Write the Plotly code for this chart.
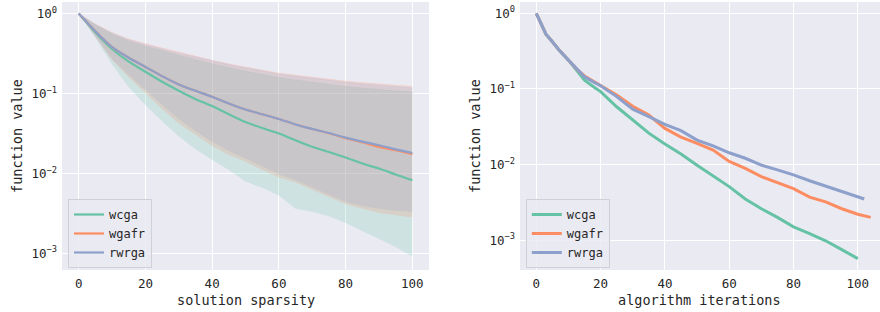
import plotly.graph_objects as go

# ---------------- data: left panel (solution sparsity) ----------------
x_left = [0, 5, 10, 15, 20, 25, 30, 35, 40, 45, 50, 55, 60, 65, 70, 75, 80, 85, 90, 95, 100]

wcga_mean = [1, 0.58, 0.36, 0.25, 0.187, 0.14, 0.108, 0.085, 0.0695, 0.055, 0.044, 0.037, 0.0316, 0.026, 0.0215, 0.0185, 0.0158, 0.0133, 0.0115, 0.0097, 0.0082]
wgafr_mean = [1, 0.6, 0.38, 0.28, 0.215, 0.165, 0.13, 0.108, 0.091, 0.075, 0.063, 0.055, 0.048, 0.041, 0.036, 0.0318, 0.0275, 0.0245, 0.0215, 0.0195, 0.0174]
rwrga_mean = [1, 0.6, 0.38, 0.28, 0.215, 0.165, 0.13, 0.108, 0.091, 0.075, 0.063, 0.055, 0.048, 0.041, 0.036, 0.032, 0.028, 0.025, 0.0225, 0.02, 0.018]

wcga_upper = [1, 0.72, 0.55, 0.45, 0.39, 0.34, 0.3, 0.265, 0.235, 0.21, 0.19, 0.172, 0.158, 0.148, 0.138, 0.129, 0.122, 0.117, 0.112, 0.108, 0.105]
wgafr_upper = [1, 0.74, 0.58, 0.48, 0.42, 0.37, 0.33, 0.295, 0.26, 0.235, 0.215, 0.195, 0.18, 0.17, 0.16, 0.15, 0.143, 0.137, 0.132, 0.127, 0.123]
rwrga_upper = [1, 0.73, 0.57, 0.47, 0.41, 0.36, 0.32, 0.288, 0.255, 0.23, 0.21, 0.19, 0.175, 0.165, 0.155, 0.146, 0.139, 0.132, 0.127, 0.122, 0.118]

wcga_lower = [1, 0.5, 0.23, 0.12, 0.072, 0.045, 0.029, 0.02, 0.0147, 0.011, 0.0079, 0.0066, 0.0053, 0.0036, 0.0033, 0.0029, 0.0024, 0.0019, 0.0015, 0.0012, 0.00091]
wgafr_lower = [1, 0.51, 0.26, 0.16, 0.1, 0.064, 0.042, 0.03, 0.022, 0.017, 0.014, 0.011, 0.0089, 0.0077, 0.0062, 0.005, 0.0041, 0.0036, 0.0032, 0.003, 0.0028]
rwrga_lower = [1, 0.52, 0.27, 0.17, 0.11, 0.072, 0.048, 0.034, 0.0248, 0.019, 0.0154, 0.0122, 0.0097, 0.0082, 0.0066, 0.0054, 0.0044, 0.0039, 0.0036, 0.0034, 0.0033]

# ---------------- data: right panel (algorithm iterations) ----------------
x_wcga_r = [0, 1, 2, 3, 5, 7, 10, 13, 15, 18, 20, 25, 30, 35, 40, 45, 50, 55, 60, 65, 70, 75, 80, 85, 90, 95, 100]
wcga_r = [1, 0.8, 0.64, 0.53, 0.42, 0.33, 0.24, 0.168, 0.13, 0.105, 0.092, 0.058, 0.039, 0.026, 0.0187, 0.0138, 0.0098, 0.0071, 0.0051, 0.0035, 0.0026, 0.002, 0.0015, 0.00122, 0.00098, 0.00075, 0.00057]

x_wgafr_r = [0, 1, 2, 3, 5, 7, 10, 13, 15, 18, 20, 25, 30, 35, 40, 45, 50, 55, 60, 65, 70, 75, 80, 85, 90, 95, 100, 104]
wgafr_r = [1, 0.8, 0.64, 0.53, 0.42, 0.33, 0.24, 0.175, 0.148, 0.125, 0.112, 0.083, 0.059, 0.045, 0.030, 0.023, 0.019, 0.0155, 0.011, 0.0089, 0.0069, 0.0057, 0.0048, 0.0037, 0.0032, 0.0026, 0.0022, 0.0020]

x_rwrga_r = [0, 1, 2, 3, 5, 7, 10, 13, 15, 18, 20, 25, 30, 35, 40, 45, 50, 55, 60, 65, 70, 75, 80, 85, 90, 95, 100, 102]
rwrga_r = [1, 0.8, 0.64, 0.53, 0.42, 0.33, 0.24, 0.175, 0.145, 0.122, 0.11, 0.079, 0.054, 0.043, 0.034, 0.028, 0.021, 0.0176, 0.0143, 0.0121, 0.0098, 0.0085, 0.0073, 0.0061, 0.0052, 0.0044, 0.0037, 0.0035]

names = ["wcga", "wgafr", "rwrga"]
colors = ["#66c2a5", "#fc8d62", "#8da0cb"]
fills = ["rgba(102,194,165,0.2)", "rgba(252,141,98,0.2)", "rgba(141,160,203,0.2)"]

x_ticks = [0, 20, 40, 60, 80, 100]
y_tickvals = [1, 0.1, 0.01, 0.001]
y_ticktext = ["10<sup>0</sup>", "10<sup>\u22121</sup>", "10<sup>\u22122</sup>", "10<sup>\u22123</sup>"]

FONT = "DejaVu Sans Mono"
TXT = "#262626"

fig = go.Figure()

# bands (left)
for nm, lo, up, fc in zip(names, [wcga_lower, wgafr_lower, rwrga_lower],
                          [wcga_upper, wgafr_upper, rwrga_upper], fills):
    fig.add_trace(go.Scatter(x=x_left, y=lo, mode="lines", line=dict(width=0),
                             showlegend=False, hoverinfo="skip", xaxis="x", yaxis="y"))
    fig.add_trace(go.Scatter(x=x_left, y=up, mode="lines", line=dict(width=0.6, color=fc),
                             fill="tonexty", fillcolor=fc, showlegend=False,
                             hoverinfo="skip", xaxis="x", yaxis="y"))

# mean lines (left)
for nm, ys, c in zip(names, [wcga_mean, wgafr_mean, rwrga_mean], colors):
    fig.add_trace(go.Scatter(x=x_left, y=ys, mode="lines", name=nm,
                             line=dict(color=c, width=2.2, shape="spline", smoothing=0.6),
                             xaxis="x", yaxis="y", legend="legend"))

# right lines
for nm, xs, ys, c in zip(names, [x_wcga_r, x_wgafr_r, x_rwrga_r], [wcga_r, wgafr_r, rwrga_r], colors):
    fig.add_trace(go.Scatter(x=xs, y=ys, mode="lines", name=nm,
                             line=dict(color=c, width=3),
                             xaxis="x2", yaxis="y2", legend="legend2"))

axis_common = dict(showgrid=True, gridcolor="white", gridwidth=1.1, zeroline=False,
                   showline=False, ticks="", automargin=False, ticklabelstandoff=4,
                   tickfont=dict(family=FONT, size=12.5, color=TXT))

fig.update_layout(
    width=880, height=312,
    margin=dict(l=62, r=0, t=2, b=42, autoexpand=False),
    paper_bgcolor="white", plot_bgcolor="#EAEAF2",
    font=dict(family=FONT, color=TXT),
    xaxis=dict(domain=[0, 0.4487], range=[-5, 105], tickvals=x_ticks, anchor="y", **axis_common),
    yaxis=dict(domain=[0, 1], type="log", range=[-3.209, 0.145], tickvals=y_tickvals,
               ticktext=y_ticktext, anchor="x", **axis_common),
    xaxis2=dict(domain=[0.5599, 1], range=[-5.07, 106.9], tickvals=x_ticks, anchor="y2", **axis_common),
    yaxis2=dict(domain=[0, 1], type="log", range=[-3.395, 0.149], tickvals=y_tickvals,
                ticktext=y_ticktext, anchor="x2", **axis_common),
    legend=dict(x=0.0073, y=0.0075, xanchor="left", yanchor="bottom", traceorder="normal",
                bgcolor="rgba(234,234,242,0.85)", bordercolor="#d0d0d8", borderwidth=1,
                font=dict(family=FONT, size=12, color=TXT), tracegroupgap=0),
    legend2=dict(x=0.567, y=0.0075, xanchor="left", yanchor="bottom", traceorder="normal",
                 bgcolor="rgba(234,234,242,0.85)", bordercolor="#d0d0d8", borderwidth=1,
                 font=dict(family=FONT, size=12, color=TXT), tracegroupgap=0),
    annotations=[
        dict(text="solution sparsity", x=0.5 * 0.4487, y=-0.112, xref="paper", yref="paper",
             showarrow=False, font=dict(family=FONT, size=13.5, color=TXT), xanchor="center", yanchor="middle"),
        dict(text="algorithm iterations", x=(0.5599 + 1) / 2, y=-0.112, xref="paper", yref="paper",
             showarrow=False, font=dict(family=FONT, size=13.5, color=TXT), xanchor="center", yanchor="middle"),
        dict(text="function value", x=(17 - 62) / 818, y=0.5, xref="paper", yref="paper", textangle=-90,
             showarrow=False, font=dict(family=FONT, size=13.5, color=TXT), xanchor="center", yanchor="middle"),
        dict(text="function value", x=(475 - 62) / 818, y=0.5, xref="paper", yref="paper", textangle=-90,
             showarrow=False, font=dict(family=FONT, size=13.5, color=TXT), xanchor="center", yanchor="middle"),
    ],
)

fig.write_html("out.html", config={"displayModeBar": False},
               post_script="document.body.style.margin='0';document.body.style.padding='0';")
